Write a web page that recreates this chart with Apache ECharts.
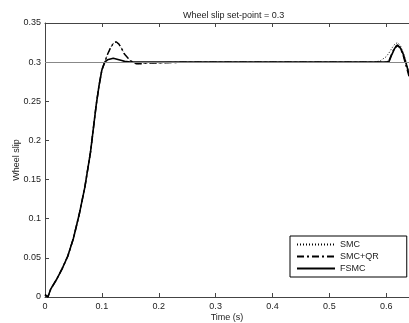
<!DOCTYPE html>
<html>
<head>
<meta charset="utf-8">
<script src="https://cdn.jsdelivr.net/npm/echarts@6/dist/echarts.min.js"></script>
<style>
  html, body { margin: 0; padding: 0; background: #fff; }
  #chart { width: 409px; height: 323px; }
</style>
</head>
<body>
<div id="chart"></div>
<script>
// time samples (s)
const time = [0, 0.005, 0.01, 0.02, 0.03, 0.04, 0.05, 0.06, 0.07, 0.08, 0.085, 0.09, 0.095, 0.1, 0.105,
  0.11, 0.115, 0.12, 0.125, 0.13, 0.135, 0.14, 0.15, 0.16, 0.17, 0.18, 0.2, 0.25, 0.3, 0.35, 0.4, 0.45,
  0.5, 0.55, 0.58, 0.59, 0.6, 0.605, 0.61, 0.615, 0.62, 0.625, 0.63, 0.635, 0.64];

const smc = [0.003, 0, 0.01, 0.022, 0.036, 0.052, 0.075, 0.105, 0.14, 0.185, 0.215, 0.245, 0.27, 0.29, 0.3,
  0.31, 0.318, 0.324, 0.326, 0.323, 0.317, 0.31, 0.302, 0.298, 0.298, 0.299, 0.299, 0.3, 0.3, 0.3, 0.3, 0.3,
  0.3, 0.3, 0.3, 0.302, 0.307, 0.312, 0.318, 0.323, 0.325, 0.321, 0.312, 0.3, 0.288];

const smcQr = [0.003, 0, 0.01, 0.022, 0.036, 0.052, 0.075, 0.105, 0.14, 0.185, 0.215, 0.245, 0.27, 0.29, 0.3,
  0.31, 0.318, 0.324, 0.326, 0.323, 0.317, 0.31, 0.302, 0.298, 0.298, 0.299, 0.299, 0.3, 0.3, 0.3, 0.3, 0.3,
  0.3, 0.3, 0.3, 0.3, 0.3, 0.302, 0.311, 0.319, 0.322, 0.318, 0.308, 0.295, 0.282];

const fsmc = [0.003, 0, 0.01, 0.022, 0.036, 0.052, 0.075, 0.105, 0.14, 0.185, 0.215, 0.245, 0.27, 0.29, 0.3,
  0.303, 0.304, 0.305, 0.304, 0.303, 0.302, 0.301, 0.3, 0.3, 0.3, 0.3, 0.3, 0.3, 0.3, 0.3, 0.3, 0.3,
  0.3, 0.3, 0.3, 0.3, 0.3, 0.301, 0.31, 0.318, 0.321, 0.318, 0.31, 0.298, 0.285];

const setPoint = 0.3;

const pairs = arr => time.map((t, i) => [t, arr[i]]);

const txt = { color: '#222', fontFamily: 'Liberation Sans', fontSize: 9 };

const chart = echarts.init(document.getElementById('chart'));
chart.setOption({
  animation: false,
  title: {
    text: 'Wheel slip set-point = 0.3',
    left: 178, top: 6,
    textStyle: Object.assign({}, txt, { fontWeight: 'normal' })
  },
  legend: {
    orient: 'vertical',
    left: 290, top: 236,
    padding: [4, 28, 4, 6],
    itemGap: 3,
    itemWidth: 38, itemHeight: 10,
    borderColor: '#000', borderWidth: 1,
    itemStyle: { opacity: 0 },
    textStyle: txt,
    data: ['SMC', 'SMC+QR', 'FSMC']
  },
  grid: { left: 45, right: 0, top: 23, bottom: 26, outerBoundsMode: 'none' },
  xAxis: [{
    type: 'value', min: 0, max: 0.64, interval: 0.1,
    name: 'Time (s)', nameLocation: 'middle', nameGap: 16, nameMoveOverlap: false,
    nameTextStyle: txt,
    axisLine: { lineStyle: { color: '#444' } },
    axisTick: { inside: true, length: 4, lineStyle: { color: '#444' } },
    axisLabel: Object.assign({ showMaxLabel: false, margin: 5 }, txt),
    splitLine: { show: false }
  }, {
    type: 'value', min: 0, max: 0.64, interval: 0.1, position: 'top',
    axisLine: { show: true, lineStyle: { color: '#444' } },
    axisTick: { show: true, inside: true, length: 4, lineStyle: { color: '#444' } },
    axisLabel: { show: false },
    splitLine: { show: false }
  }],
  yAxis: {
    type: 'value', min: 0, max: 0.35, interval: 0.05,
    name: 'Wheel slip', nameLocation: 'middle', nameGap: 24, nameMoveOverlap: false,
    nameTextStyle: txt,
    axisLine: { show: true, lineStyle: { color: '#444' } },
    axisTick: { show: true, inside: true, length: 4, lineStyle: { color: '#444' } },
    axisLabel: Object.assign({ margin: 4 }, txt),
    splitLine: { show: false }
  },
  series: [{
    name: 'SMC', type: 'line', symbol: 'none', data: pairs(smc),
    lineStyle: { color: '#000', width: 1, type: [1, 2] },
    itemStyle: { color: '#000' },
    markLine: {
      silent: true, symbol: 'none', label: { show: false },
      lineStyle: { color: '#888', width: 1.2, type: 'solid' },
      data: [{ yAxis: setPoint }]
    }
  }, {
    name: 'SMC+QR', type: 'line', symbol: 'none', data: pairs(smcQr),
    lineStyle: { color: '#000', width: 1.5, type: [7, 3, 2, 3] },
    itemStyle: { color: '#000' }
  }, {
    name: 'FSMC', type: 'line', symbol: 'none', data: pairs(fsmc),
    lineStyle: { color: '#000', width: 1.6, type: 'solid' },
    itemStyle: { color: '#000' }
  }]
});
</script>
</body>
</html>
